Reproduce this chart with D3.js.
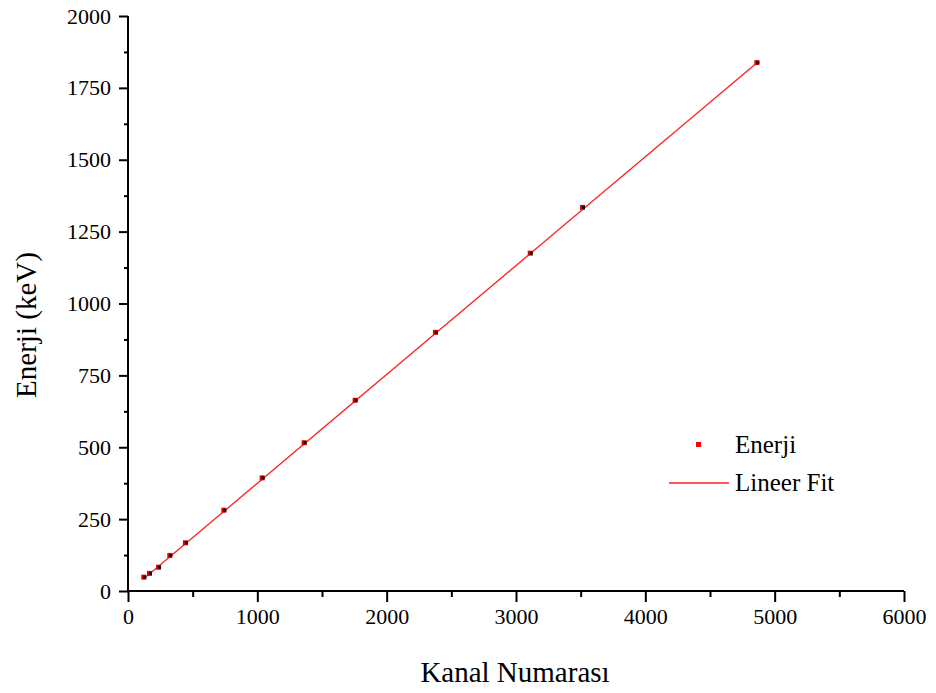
<!DOCTYPE html>
<html>
<head>
<meta charset="utf-8">
<script src="https://cdn.jsdelivr.net/npm/d3@7"></script>
</head>
<body style="margin:0;background:#fff">
<svg id="chart" width="936" height="693"></svg>
<script>
// channel numbers and energies
let kanal = [126, 170, 240, 327, 448, 745, 1041, 1366, 1760, 2381, 3114, 3518, 4866];
let enerji = [46.5, 59.5, 81, 122, 165.9, 279.2, 391.7, 514, 661.7, 898, 1173.2, 1332.5, 1836];
let xTicks = [0, 1000, 2000, 3000, 4000, 5000, 6000];
let yTicks = [0, 250, 500, 750, 1000, 1250, 1500, 1750, 2000];

let serif = "'Liberation Serif', monospace";
let svg = d3.select("#chart");
let mLeft = 128, mRight = 904, mTop = 16, mBottom = 591;

let x = d3.scaleLinear().domain([0, 6000]).range([mLeft, mRight]);
let y = d3.scaleLinear().domain([0, 2000]).range([mBottom, mTop]);

// least squares fit of the points
let mx = d3.mean(kanal), my = d3.mean(enerji);
let sxy = d3.sum(kanal, (k, i) => (k - mx) * (enerji[i] - my));
let sxx = d3.sum(kanal, k => (k - mx) * (k - mx));
let slope = sxy / sxx, icept = my - slope * mx;
let fitX = d3.extent(kanal);

// minor ticks
let xMinor = d3.range(500, 6000, 1000);
let yMinor = d3.range(125, 2000, 250);

let gx = svg.append("g").attr("transform", "translate(0," + mBottom + ")");
gx.call(d3.axisBottom(x).tickValues(xTicks).tickSize(11).tickPadding(6).tickFormat(d3.format("d")));
gx.append("g").attr("class", "minor").call(d3.axisBottom(x).tickValues(xMinor).tickSize(6).tickFormat(""));

let gy = svg.append("g").attr("transform", "translate(" + mLeft + ",0)");
gy.call(d3.axisLeft(y).tickValues(yTicks).tickSize(9).tickPadding(8).tickFormat(d3.format("d")));
gy.append("g").attr("class", "minor").call(d3.axisLeft(y).tickValues(yMinor).tickSize(4).tickFormat(""));

gx.attr("font-family", serif).attr("font-size", 22);
gy.attr("font-family", serif).attr("font-size", 22);
svg.selectAll(".minor .domain").remove();
svg.selectAll(".domain").attr("stroke-width", 2);
svg.selectAll(".tick line").attr("stroke-width", 2);
svg.selectAll(".tick text").attr("fill", "#000");
gx.select(".domain").attr("d", "M" + mLeft + ",0H" + mRight);
gy.select(".domain").attr("d", "M0," + mBottom + "V" + mTop);

// fit line
svg.append("line")
    .attr("x1", x(fitX[0])).attr("y1", y(icept + slope * fitX[0]))
    .attr("x2", x(fitX[1])).attr("y2", y(icept + slope * fitX[1]))
    .attr("stroke", "#ff2020")
    .attr("stroke-width", 1.3);

// points
let pts = svg.append("g");
pts.selectAll(".r").data(kanal).enter().append("rect")
    .attr("x", (d) => x(d) - 3)
    .attr("y", (d, i) => y(enerji[i]) - 3)
    .attr("width", 5).attr("height", 5)
    .attr("fill", "#e00000");
pts.selectAll(".b").data(kanal).enter().append("rect")
    .attr("x", (d) => x(d) - 1)
    .attr("y", (d, i) => y(enerji[i]) - 2)
    .attr("width", 3).attr("height", 3)
    .attr("fill", "#111");

// axis titles
svg.append("text")
    .attr("x", 515).attr("y", 682)
    .attr("text-anchor", "middle")
    .attr("font-family", serif)
    .attr("font-size", 29)
    .text("Kanal Numarası");
svg.append("text")
    .attr("transform", "translate(36,325) rotate(-90)")
    .attr("text-anchor", "middle")
    .attr("font-family", serif)
    .attr("font-size", 29)
    .text("Enerji (keV)");

// legend
let leg = svg.append("g").attr("font-family", serif).attr("font-size", 25);
leg.append("rect").attr("x", 696).attr("y", 442).attr("width", 5).attr("height", 5).attr("fill", "#ff0000");
leg.append("text").attr("x", 735).attr("y", 453).text("Enerji");
leg.append("line").attr("x1", 669).attr("x2", 729).attr("y1", 483).attr("y2", 483)
    .attr("stroke", "#ff2020").attr("stroke-width", 1.3);
leg.append("text").attr("x", 735).attr("y", 491).text("Lineer Fit");
</script>
</body>
</html>
